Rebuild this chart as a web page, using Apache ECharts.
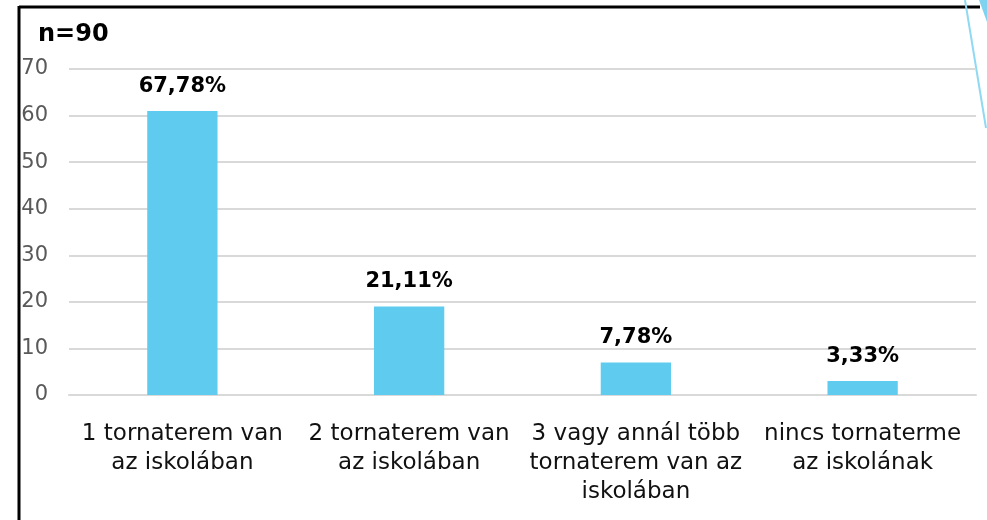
<!DOCTYPE html>
<html>
<head>
<meta charset="utf-8">
<script src="https://cdn.jsdelivr.net/npm/echarts@6/dist/echarts.min.js"></script>
<style>
  html, body { margin: 0; padding: 0; background: #fff; }
  #chart { width: 987px; height: 520px; }
</style>
</head>
<body>
<div id="chart"></div>
<script>
// adatok
const total = 90
const categories = [
  '1 tornaterem van\naz iskolában',
  '2 tornaterem van\naz iskolában',
  '3 vagy annál több\ntornaterem van az\niskolában',
  'nincs tornaterme\naz iskolának'
]
const counts = [61, 19, 7, 3]
const yTicks = [0, 10, 20, 30, 40, 50, 60, 70]

const chart = echarts.init(document.getElementById('chart'))

chart.setOption({
  animation: false,
  backgroundColor: '#fff',
  title: {
    text: 'n=' + total,
    left: 33,
    top: 18,
    textStyle: { fontFamily: 'DejaVu Sans', fontWeight: 'bold', fontSize: 24, color: '#000' }
  },
  grid: { left: 69, right: 11, top: 69, bottom: 125 },
  xAxis: {
    type: 'category',
    data: categories,
    axisLine: { show: true, lineStyle: { color: '#d9d9d9', width: 2 } },
    axisTick: { show: false },
    axisLabel: {
      interval: 0,
      margin: 25,
      color: '#111',
      fontFamily: 'DejaVu Sans',
      fontSize: 23,
      lineHeight: 29
    }
  },
  yAxis: {
    type: 'value',
    min: yTicks[0],
    max: yTicks[yTicks.length - 1],
    interval: 10,
    axisLine: { show: false },
    axisTick: { show: false },
    axisLabel: {
      margin: 21,
      color: '#595959',
      fontFamily: 'DejaVu Sans',
      fontSize: 21
    },
    splitLine: { lineStyle: { color: '#d9d9d9', width: 2 } }
  },
  series: [
    {
      type: 'bar',
      data: counts,
      barWidth: '31%',
      itemStyle: { color: '#5fcbef' },
      label: {
        show: true,
        position: 'top',
        distance: 14,
        color: '#000',
        fontFamily: 'DejaVu Sans',
        fontWeight: 'bold',
        fontSize: 21,
        formatter: (p) => (p.value / total * 100).toFixed(2).replace('.', ',') + '%'
      }
    }
  ],
  graphic: [
    // keret
    { type: 'line', shape: { x1: 19, y1: 7, x2: 980, y2: 7 }, style: { stroke: '#000', lineWidth: 3 } },
    { type: 'line', shape: { x1: 19, y1: 6, x2: 19, y2: 520 }, style: { stroke: '#000', lineWidth: 3 } },
    // dia díszítés jobb felül
    { type: 'line', shape: { x1: 965, y1: 0, x2: 986, y2: 128 }, style: { stroke: '#8fd9f3', lineWidth: 2 } },
    { type: 'polygon', shape: { points: [[979, 0], [987, 0], [987, 22]] }, style: { fill: '#7fd3f1' } }
  ]
})
</script>
</body>
</html>
